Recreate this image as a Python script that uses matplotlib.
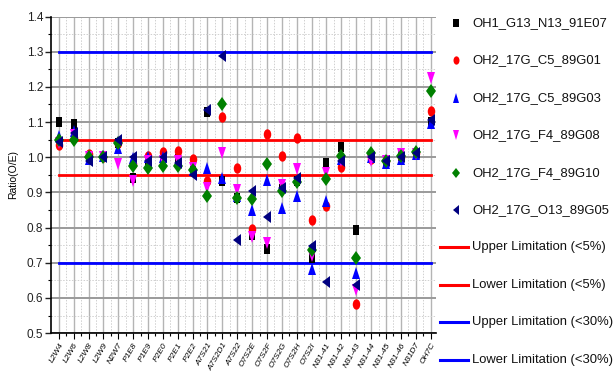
import matplotlib
matplotlib.use("Agg")
import matplotlib.pyplot as plt
from matplotlib.markers import MarkerStyle
from matplotlib.transforms import Affine2D
from matplotlib.lines import Line2D
import numpy as np

categories = ['L2W4', 'L2W6', 'L2W8', 'L2W9', 'N2W7', 'P1E8', 'P1E9', 'P2E0',
              'P2E1', 'P2E2', 'A7S21', 'A7S2D1', 'A7S22', 'O7S2E', 'O7S2F',
              'O7S2G', 'O7S2H', 'O7S2I', 'N31-41', 'N31-42', 'N31-43',
              'N31-44', 'N31-45', 'N31-46', 'N31D7', 'OH7C']

oh1_g13_n13_91e07 = [1.100, 1.095, 1.000, 1.000, 1.040, 0.940, 0.990, 0.990, 0.995, 0.962,
                     1.128, 0.932, 0.885, 0.778, 0.740, 0.910, 0.932, 0.714, 0.984, 1.028,
                     0.793, 1.000, 0.990, 1.003, 1.012, 1.100]
oh2_17g_c5_89g01 = [1.035, 1.055, 1.008, 1.000, 1.040, 0.980, 1.003, 1.014, 1.017, 0.996,
                    0.932, 1.115, 0.970, 0.795, 1.067, 1.003, 1.055, 0.821, 0.861, 0.973,
                    0.584, 0.995, 0.990, 1.000, 1.012, 1.131]
oh2_17g_c5_89g03 = [1.060, 1.074, 0.995, 1.003, 1.025, 0.999, 1.000, 1.000, 0.990, 0.965,
                    0.970, 0.940, 0.890, 0.850, 0.935, 0.856, 0.891, 0.683, 0.875, 0.995,
                    0.670, 1.000, 0.985, 0.996, 1.010, 1.098]
oh2_17g_f4_89g08 = [1.040, 1.062, 1.000, 1.000, 0.980, 0.932, 0.990, 0.990, 0.990, 0.970,
                    0.914, 1.012, 0.908, 0.774, 0.755, 0.920, 0.967, 0.720, 0.956, 0.990,
                    0.624, 0.990, 0.990, 1.008, 1.010, 1.225]
oh2_17g_f4_89g10 = [1.050, 1.050, 1.000, 1.000, 1.040, 0.974, 0.970, 0.976, 0.974, 0.965,
                    0.890, 1.150, 0.885, 0.882, 0.982, 0.903, 0.930, 0.736, 0.939, 1.003,
                    0.714, 1.013, 0.990, 1.003, 1.015, 1.188]
oh2_17g_o13_89g05 = [1.042, 1.070, 0.990, 1.000, 1.050, 1.000, 0.990, 1.000, 0.985, 0.950,
                     1.135, 1.287, 0.764, 0.903, 0.830, 0.913, 0.940, 0.747, 0.645, 0.989,
                     0.638, 1.001, 0.990, 1.000, 1.012, 1.107]

series_names = ['OH1_G13_N13_91E07', 'OH2_17G_C5_89G01', 'OH2_17G_C5_89G03',
                'OH2_17G_F4_89G08', 'OH2_17G_F4_89G10', 'OH2_17G_O13_89G05']
series_values = [oh1_g13_n13_91e07, oh2_17g_c5_89g01, oh2_17g_c5_89g03,
                 oh2_17g_f4_89g08, oh2_17g_f4_89g10, oh2_17g_o13_89g05]

limit_names = ['Upper Limitation (<5%)', 'Lower Limitation (<5%)',
               'Upper Limitation (<30%)', 'Lower Limitation (<30%)']
limit_values = [1.05, 0.95, 1.30, 0.70]

plt.rcParams['font.family'] = ['Liberation Sans', 'DejaVu Sans']

squash = Affine2D().scale(0.72, 1.0)
styles = [
    dict(marker=MarkerStyle('s', transform=squash), color='#000000', size=7),
    dict(marker=MarkerStyle('o', transform=squash), color='#ff0000', size=7.5),
    dict(marker=MarkerStyle('^', transform=squash), color='#0000ff', size=8),
    dict(marker=MarkerStyle('v', transform=squash), color='#ff00ff', size=8),
    dict(marker=MarkerStyle('D', transform=squash), color='#008000', size=7),
    dict(marker=MarkerStyle('<', transform=squash), color='#000080', size=8),
]
limit_colors = ['#ff0000', '#ff0000', '#0000ff', '#0000ff']

W, H = 616, 376
fig = plt.figure(figsize=(W / 100, H / 100), dpi=100)
ax = fig.add_axes([0.0836, 0.114, 0.625, 0.842])

x = np.arange(len(categories))

# grid
ax.set_axisbelow(True)
ax.set_ylim(0.5, 1.4)
ax.set_xlim(-0.49, len(categories) - 0.6)
ax.set_yticks(np.arange(0.5, 1.41, 0.1))
ax.set_yticks(np.arange(0.55, 1.4, 0.1), minor=True)
ax.set_xticks(x)
ax.set_xticks(x[:-1] + 0.5, minor=True)
ax.grid(which='major', axis='y', color='#9a9a9a', linewidth=1.4)
ax.grid(which='major', axis='x', color='#b4b4b4', linewidth=1.0)
ax.grid(which='minor', color='#d0d0d0', linewidth=0.7, linestyle=(0, (1.5, 1.5)))

# limitation lines
for name, val, col in zip(limit_names, limit_values, limit_colors):
    ax.plot([x[0], x[-1]], [val, val], color=col, linewidth=2.0, zorder=2)

# sample ratios
for name, vals, st in zip(series_names, series_values, styles):
    ax.plot(x, vals, linestyle='none', marker=st['marker'], markersize=st['size'],
            color=st['color'], markeredgewidth=0, zorder=3)

for side in ('top', 'right'):
    ax.spines[side].set_visible(False)
ax.spines['left'].set_linewidth(1.2)
ax.spines['bottom'].set_linewidth(1.2)

ax.tick_params(axis='y', which='major', length=4, width=1.0, labelsize=8.5, pad=2,
               colors='#222222')
ax.tick_params(axis='y', which='minor', length=2.5, width=0.8)
ax.tick_params(axis='x', which='major', length=4, width=0.8, labelsize=6, pad=2)
ax.tick_params(axis='x', which='minor', length=2.5, width=0.8)
ax.set_yticklabels([f'{v:.1f}' for v in np.arange(0.5, 1.41, 0.1)])
ax.set_xticklabels(categories, rotation=60, ha='right', rotation_mode='anchor',
                   fontstyle='italic')
ax.set_ylabel('Ratio(O/E)', fontsize=7.5, labelpad=6)

# legend column drawn in figure pixel coordinates
row_y0, row_step = 23, 37.4
mark_x, text_x = 456, 472
line_x0, line_x1 = 440, 468
legend_labels = series_names + limit_names
for i, label in enumerate(legend_labels):
    yf = 1 - (row_y0 + i * row_step) / H
    if i < len(styles):
        st = styles[i]
        fig.add_artist(Line2D([mark_x / W], [yf], linestyle='none', marker=st['marker'],
                              markersize=st['size'] - 1.5, color=st['color'],
                              markeredgewidth=0, transform=fig.transFigure))
    else:
        col = limit_colors[i - len(styles)]
        fig.add_artist(Line2D([line_x0 / W, line_x1 / W], [yf, yf], color=col,
                              linewidth=2.2, transform=fig.transFigure))
    fig.text(text_x / W, yf, label, fontsize=9.4, va='center', ha='left', color='#111111')

fig.savefig('out.png', dpi=100)
